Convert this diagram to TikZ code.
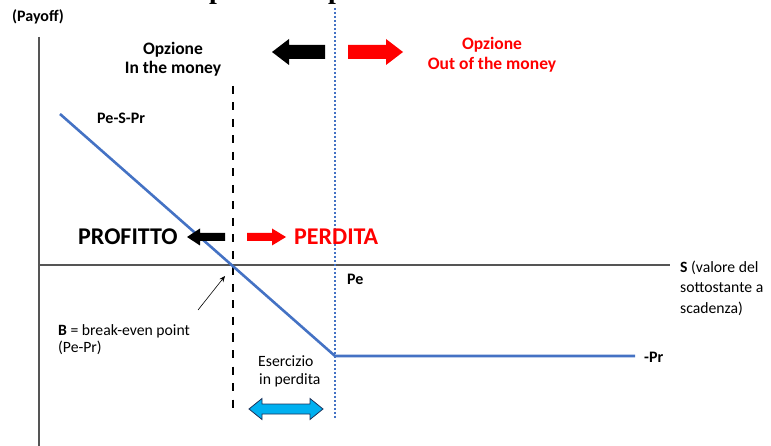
\documentclass[tikz,border=0pt]{standalone}
\usepackage{fontspec}
\setmainfont{Carlito}
\newfontfamily\titlefont{Liberation Serif}
\usetikzlibrary{arrows.meta}
\definecolor{payblue}{RGB}{68,114,196}
\definecolor{axisgray}{RGB}{85,85,85}
\definecolor{lossred}{RGB}{255,0,0}
\definecolor{cyanfill}{RGB}{0,176,240}
\definecolor{navyline}{RGB}{30,50,90}
\begin{document}
\begin{tikzpicture}[x=1pt,y=-1pt,
  txt/.style={inner sep=0pt, anchor=base west, font=\fontsize{15.7}{18}\selectfont},
  btxt/.style={inner sep=0pt, anchor=base west, font=\fontsize{16}{19}\selectfont\bfseries},
  headtxt/.style={inner sep=0pt, anchor=base, font=\fontsize{17.5}{20}\selectfont\bfseries},
  bigtxt/.style={inner sep=0pt, anchor=base west, font=\fontsize{24}{28}\selectfont\bfseries},
  axisline/.style={draw=axisgray, line width=1.3pt},
  payoff/.style={draw=payblue, line width=2.6pt, line join=miter},
  strikeline/.style={draw=black, line width=2.8pt, dash pattern=on 8pt off 8.5pt},
  strikedots/.style={draw=payblue, line width=1.8pt, dash pattern=on 1.8pt off 2.2pt},
  fatarrow/.style={fill=#1, draw=none},
  pointer/.style={draw=black, line width=0.6pt, -{Stealth[length=6pt,width=5pt]}}
]
\useasboundingbox (0,0) rectangle (771,446);

% title running off the top edge
\begin{scope}
  \clip (0,0) rectangle (771,446);
  \node[inner sep=0pt, anchor=base west, font=\titlefont\fontsize{28}{30}\selectfont\bfseries] (tp1) at (209,-1) {p};
  \node[inner sep=0pt, anchor=base west, font=\titlefont\fontsize{28}{30}\selectfont\bfseries] (tp2) at (328,-1) {p};
\end{scope}

% axes
\coordinate (O) at (39,265);
\coordinate (ytop) at (39,37);
\coordinate (ybot) at (39,446);
\coordinate (xend) at (670,265);
\draw[axisline] (ytop) -- (ybot);
\draw[axisline] (O) -- (xend);

% break-even and strike verticals
\coordinate (Btop) at (233,86);
\coordinate (Bbot) at (233,412);
\coordinate (B) at (233,265);
\draw[strikeline] (Btop) -- (Bbot);
\coordinate (Ktop) at (335,8);
\coordinate (Kbot) at (335,418);
\draw[strikedots] (Ktop) -- (Kbot);

% payoff profile
\coordinate (P0) at (60,114);
\coordinate (Pk) at (335,356);
\coordinate (P1) at (635,356);
\draw[payoff] (P0) -- (Pk) -- (P1);

% moneyness arrows
\fill[fatarrow=black] (325,45) -- (289,45) -- (289,39) -- (272,52) -- (289,65) -- (289,59) -- (325,59) -- cycle;
\fill[fatarrow=lossred] (348,45) -- (386,45) -- (386,39) -- (403,52) -- (386,65) -- (386,59) -- (348,59) -- cycle;

% profit / loss arrows
\fill[fatarrow=black] (225,233) -- (200,233) -- (200,228.5) -- (187,237) -- (200,245.5) -- (200,241) -- (225,241) -- cycle;
\fill[fatarrow=lossred] (247,233) -- (272,233) -- (272,228.5) -- (286,237) -- (272,245.5) -- (272,241) -- (247,241) -- cycle;

% exercise-at-a-loss range
\filldraw[fill=cyanfill, draw=navyline, line width=0.8pt, line join=miter]
  (249,409) -- (262,398.5) -- (262,404) -- (310,404) -- (310,398.5) -- (323,409)
  -- (310,419.5) -- (310,414) -- (262,414) -- (262,419.5) -- cycle;

% labels
\node[btxt] (payoffl) at (12,22) {(Payoff)};
\node[headtxt] (itm1) at (173,55) {Opzione};
\node[headtxt] (itm2) at (173,74) {In the money};
\node[headtxt, text=lossred] (otm1) at (492,50) {Opzione};
\node[headtxt, text=lossred] (otm2) at (492,69.5) {Out of the money};
\node[btxt] (slope) at (97,123.5) {Pe-S-Pr};
\node[bigtxt] (profit) at (78,245) {PROFITTO};
\node[bigtxt, text=lossred] (loss) at (294,245) {PERDITA};
\node[btxt] (strike) at (347,285) {Pe};
\node[txt] (be1) at (58,335) {\textbf{B} = break-even point};
\node[txt] (be2) at (58,352.5) {(Pe-Pr)};
\node[txt] (ex1) at (258,366) {Esercizio};
\node[txt] (ex2) at (259,384) {in perdita};
\node[txt] (s1) at (680,272.5) {\textbf{S} (valore del};
\node[txt] (s2) at (680,293) {sottostante a};
\node[txt] (s3) at (680,313) {scadenza)};
\node[btxt] (prem) at (644,362) {-Pr};

% pointer to the break-even point
\coordinate (bnote) at (198,310);
\coordinate (Bhit) at (225,276);
\draw[pointer] (bnote) -- (Bhit);
\end{tikzpicture}
\end{document}
